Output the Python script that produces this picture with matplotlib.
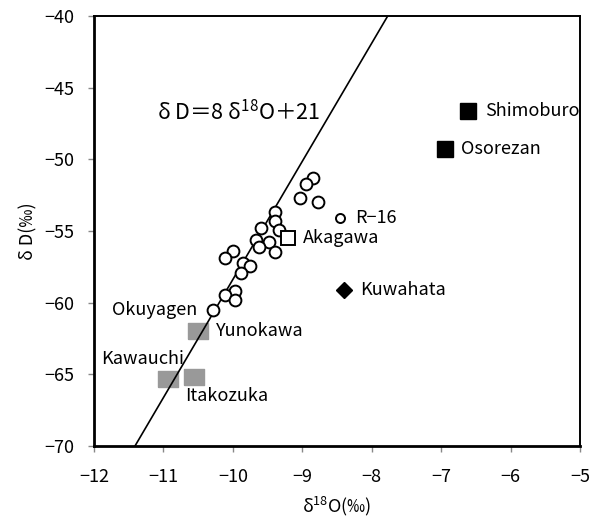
import matplotlib
matplotlib.use('Agg')
import matplotlib.pyplot as plt

plt.rcParams['font.family'] = ['Noto Sans CJK JP', 'DejaVu Sans']
plt.rcParams['mathtext.default'] = 'regular'

# spring water samples (open circles)
circle_x = [-8.85, -8.95, -9.03, -8.78, -9.39, -9.39, -9.60, -9.33, -9.66, -9.48,
            -9.63, -9.39, -10.00, -10.12, -9.85, -9.75, -9.89, -9.97, -10.12, -9.97, -10.28]
circle_y = [-51.3, -51.7, -52.7, -53.0, -53.7, -54.3, -54.8, -54.9, -55.6, -55.8,
            -56.1, -56.5, -56.4, -56.9, -57.2, -57.45, -57.9, -59.2, -59.5, -59.8, -60.5]

# labelled sites
r16 = (-8.46, -54.1)
akagawa = (-9.20, -55.5)
kuwahata = (-8.40, -59.1)
black_names = ['Shimoburo', 'Osorezan']
black_x = [-6.61, -6.95]
black_y = [-46.6, -49.3]
gray_names = ['Yunokawa', 'Kawauchi', 'Itakozuka']
gray_x = [-10.50, -10.94, -10.56]
gray_y = [-62.0, -65.3, -65.2]

# meteoric water line endpoints
line_x = [-11.41, -7.77]
line_y = [-70, -40]

fig = plt.figure(figsize=(5.91, 5.25), dpi=100)
ax = fig.add_axes([0.1591, 0.1505, 0.8223, 0.8190])

ax.plot(line_x, line_y, color='black', lw=1.2, zorder=2)
ax.plot(circle_x, circle_y, 'o', ms=8.5, mfc='white', mec='black', mew=1.4, zorder=3)
ax.plot(*r16, 'o', ms=6.5, mfc='white', mec='black', mew=1.4, zorder=3)
ax.plot(*akagawa, 's', ms=9.5, mfc='white', mec='black', mew=1.4, zorder=4)
ax.plot(*kuwahata, 'D', ms=8, color='black', zorder=4)
ax.plot(black_x, black_y, 's', ms=11.5, color='black', zorder=4)
rect = [(-1.3, -1), (1.3, -1), (1.3, 1), (-1.3, 1), (-1.3, -1)]
ax.plot(gray_x, gray_y, marker=rect, ls='none', ms=15, color='#999999', zorder=1)

fs = 13
def label(txt, xy, dx, dy, ha='left'):
    ax.annotate(txt, xy, xytext=(dx, -dy), textcoords='offset pixels',
                ha=ha, va='center', fontsize=fs, clip_on=True)

label(black_names[0], (black_x[0], black_y[0]), 17, 0)
label(black_names[1], (black_x[1], black_y[1]), 16, 0)
label('R−16', r16, 15, 0)
label('Akagawa', akagawa, 15, 0)
label('Kuwahata', kuwahata, 16, 0)
label('Okuyagen', (circle_x[-1], circle_y[-1]), -16, 0, ha='right')
label(gray_names[0], (gray_x[0], gray_y[0]), 18, 0)
label(gray_names[1], (gray_x[1], gray_y[1]), 16, -20, ha='right')
label(gray_names[2], (gray_x[2], gray_y[2]), -9, 19)

ax.text(157, 525 - 113, 'δ D＝8 δ$^{18}$O＋21', transform=None,
        fontsize=15.5, ha='left', va='center')

ax.set_xlim(-12, -5)
ax.set_ylim(-70, -40)
ax.set_xticks(range(-12, -4))
ax.set_yticks(range(-70, -39, 5))
ax.tick_params(direction='out', length=4, width=1, color='#888888', labelsize=13)
ax.tick_params(axis='x', pad=12)
ax.tick_params(axis='y', pad=10)
for side in ['left', 'bottom']:
    ax.spines[side].set_linewidth(2)
for side in ['top', 'right']:
    ax.spines[side].set_linewidth(1.4)

ax.set_xlabel('δ$^{18}$O(‰)', fontsize=13, labelpad=6)
ax.set_ylabel('δ D(‰)', fontsize=13, labelpad=5)

fig.savefig('out.png', dpi=100)
